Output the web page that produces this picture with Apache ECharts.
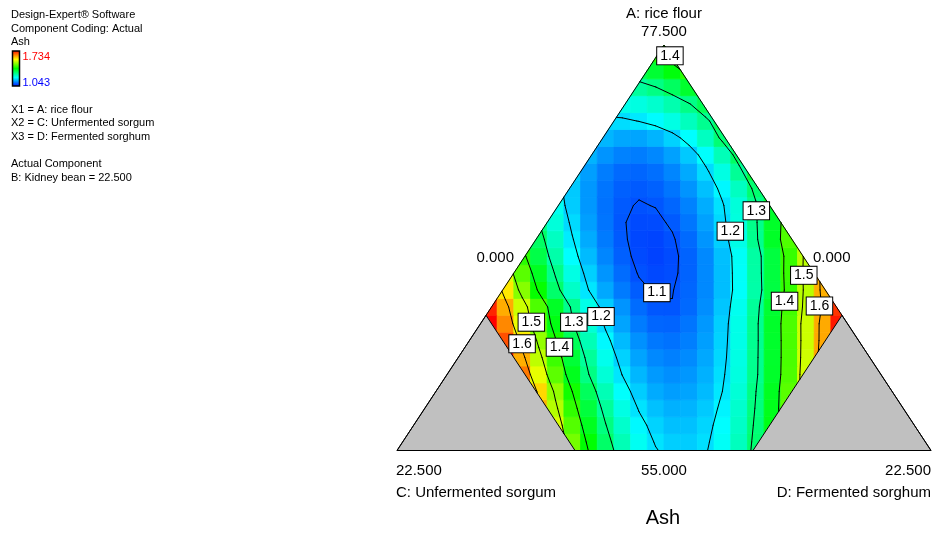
<!DOCTYPE html>
<html>
<head>
<meta charset="utf-8">
<script src="https://cdn.jsdelivr.net/npm/echarts@6/dist/echarts.min.js"></script>
<style>
  html, body { margin: 0; padding: 0; background: #fff; }
  #chart { width: 933px; height: 533px; }
</style>
</head>
<body>
<div id="chart"></div>
<script>
// ---- Ash response over the A / C / D mixture region (B: Kidney bean fixed at 22.500) ----
// Each row is one band of the mixture plot, from the A = 55 base (row 0) up to the
// A = 77.5 apex. A row lists only the cells that fall inside the feasible region,
// from the C (Unfermented sorgum) side to the D (Fermented sorghum) side.
const ashRows = [
  [1.468, 1.387, 1.319, 1.265, 1.224, 1.197, 1.183, 1.182, 1.194, 1.221, 1.260, 1.313],
  [1.536, 1.445, 1.367, 1.302, 1.250, 1.212, 1.186, 1.173, 1.174, 1.188, 1.215, 1.254, 1.308, 1.374],
  [1.613, 1.511, 1.422, 1.347, 1.284, 1.234, 1.197, 1.174, 1.163, 1.165, 1.180, 1.208, 1.249, 1.303, 1.370, 1.451],
  [1.588, 1.488, 1.400, 1.326, 1.265, 1.217, 1.182, 1.159, 1.150, 1.154, 1.170, 1.200, 1.243, 1.299, 1.367, 1.449],
  [1.652, 1.546, 1.451, 1.369, 1.300, 1.243, 1.199, 1.167, 1.147, 1.140, 1.145, 1.163, 1.194, 1.237, 1.292, 1.360, 1.440, 1.533],
  [1.723, 1.616, 1.517, 1.429, 1.351, 1.284, 1.228, 1.185, 1.154, 1.136, 1.130, 1.137, 1.157, 1.189, 1.234, 1.291, 1.359, 1.438, 1.528, 1.627],
  [1.680, 1.581, 1.488, 1.404, 1.329, 1.265, 1.212, 1.170, 1.141, 1.124, 1.120, 1.129, 1.151, 1.186, 1.232, 1.290, 1.359, 1.438, 1.526, 1.620],
  [1.742, 1.642, 1.547, 1.458, 1.377, 1.305, 1.244, 1.193, 1.154, 1.127, 1.112, 1.111, 1.122, 1.146, 1.183, 1.231, 1.290, 1.360, 1.439, 1.526, 1.619, 1.718],
  [1.709, 1.617, 1.527, 1.441, 1.363, 1.292, 1.231, 1.181, 1.143, 1.116, 1.102, 1.101, 1.114, 1.139, 1.177, 1.226, 1.285, 1.355, 1.433, 1.517, 1.606, 1.699],
  [1.576, 1.479, 1.392, 1.317, 1.253, 1.199, 1.157, 1.126, 1.106, 1.097, 1.099, 1.112, 1.136, 1.172, 1.218, 1.275, 1.344, 1.423, 1.514, 1.615],
  [1.542, 1.449, 1.366, 1.295, 1.234, 1.184, 1.144, 1.116, 1.098, 1.092, 1.095, 1.110, 1.136, 1.172, 1.219, 1.277, 1.346, 1.426, 1.516, 1.617],
  [1.417, 1.340, 1.273, 1.216, 1.170, 1.134, 1.108, 1.093, 1.088, 1.094, 1.110, 1.136, 1.173, 1.221, 1.278, 1.346, 1.425, 1.514],
  [1.321, 1.257, 1.203, 1.159, 1.126, 1.104, 1.091, 1.089, 1.097, 1.115, 1.144, 1.183, 1.232, 1.292, 1.362, 1.442],
  [1.301, 1.241, 1.191, 1.151, 1.122, 1.102, 1.093, 1.094, 1.104, 1.123, 1.152, 1.190, 1.238, 1.295, 1.361, 1.437],
  [1.225, 1.181, 1.146, 1.120, 1.104, 1.098, 1.101, 1.112, 1.131, 1.160, 1.196, 1.241, 1.295, 1.357],
  [1.180, 1.146, 1.122, 1.108, 1.104, 1.109, 1.122, 1.143, 1.173, 1.211, 1.258, 1.313],
  [1.184, 1.151, 1.128, 1.115, 1.112, 1.118, 1.134, 1.158, 1.192, 1.235, 1.287, 1.348],
  [1.165, 1.143, 1.131, 1.128, 1.135, 1.152, 1.179, 1.217, 1.264, 1.321],
  [1.166, 1.156, 1.155, 1.165, 1.185, 1.216, 1.258, 1.310],
  [1.191, 1.193, 1.201, 1.214, 1.234, 1.260, 1.291, 1.329],
  [1.230, 1.236, 1.249, 1.270, 1.297, 1.331],
  [1.282, 1.299, 1.324, 1.358],
  [1.335, 1.354, 1.381, 1.417],
  [1.410, 1.428]
];

// Colour scale limits (legend) and the contour levels drawn
const ashMin = 1.043;
const ashMax = 1.734;
const contourLevels = [1.1, 1.2, 1.3, 1.4, 1.5, 1.6];

// Component limits (actual units)
const aLow = 55.0, aHigh = 77.5;   // A: rice flour
const cMax = 15.0;                 // C: Unfermented sorgum upper limit
const dMax = 15.0;                 // D: Fermented sorghum upper limit

// Contour label boxes: level, A and D at the label centre
const labelLevels = [1.4, 1.3, 1.2, 1.5, 1.4, 1.6, 1.1, 1.2, 1.3, 1.5, 1.6, 1.4];
const labelA = [76.90, 68.30, 67.17, 64.72, 63.28, 63.02, 63.76, 62.43, 62.12, 62.12, 60.92, 60.73];
const labelD = [0.55, 8.49, 7.96, 12.28, 12.19, 13.79, 6.57, 4.88, 3.89, 2.10, 2.31, 3.98];

// Text
const componentNames = ['A: rice flour', 'C: Unfermented sorgum', 'D: Fermented sorghum'];
const apexTick = '77.500';
const cornerTicks = ['22.500', '22.500'];
const baseTick = '55.000';
const edgeTicks = ['0.000', '0.000'];
const responseName = 'Ash';
const headerLines = ['Design-Expert\u00ae Software', 'Component Coding: Actual', 'Ash'];
const factorLines = ['X1 = A: rice flour', 'X2 = C: Unfermented sorgum', 'X3 = D: Fermented sorghum'];
const fixedLines = ['Actual Component', 'B: Kidney bean = 22.500'];

// ---------------------------------------------------------------------------
const FONT = 'Arial, "Liberation Sans", Helvetica, sans-serif';
const ramp = ['#0000ff', '#00ffff', '#00ff00', '#ffff00', '#ff0000'];
const COLS = 32;
const ROWS = ashRows.length;
const span = aHigh - aLow;

// mixture (A, D) -> plot units: x across the base, y up towards the A apex
function toXY(A, D) {
  const y = (A - aLow) / span;
  return [D / span + y / 2, y];
}

// feasible region (counter-clockwise)
const region = [
  toXY(aHigh, 0),
  toXY(aHigh - cMax, 0),
  toXY(aLow, span - cMax),
  toXY(aLow, dMax),
  toXY(aHigh - dMax, dMax)
];
const triangle = [toXY(aHigh, 0), toXY(aLow, 0), toXY(aLow, span)];
const leftCut = [toXY(aLow, 0), toXY(aHigh - cMax, 0), toXY(aLow, span - cMax)];
const rightCut = [toXY(aLow, dMax), toXY(aHigh - dMax, dMax), toXY(aLow, span)];

function clipPoly(pts, poly) {
  let out = pts;
  for (let k = 0; k < poly.length && out.length; k++) {
    const a = poly[k], b = poly[(k + 1) % poly.length];
    const nx = -(b[1] - a[1]), ny = b[0] - a[0];
    const side = p => nx * (p[0] - a[0]) + ny * (p[1] - a[1]);
    const inp = out;
    out = [];
    for (let m = 0; m < inp.length; m++) {
      const p = inp[m], q = inp[(m + 1) % inp.length];
      const sp = side(p), sq = side(q);
      if (sp >= 0) out.push(p);
      if ((sp >= 0) !== (sq >= 0)) {
        const t = sp / (sp - sq);
        out.push([p[0] + t * (q[0] - p[0]), p[1] + t * (q[1] - p[1])]);
      }
    }
  }
  return out;
}
function polyArea(p) {
  let s = 0;
  for (let k = 0; k < p.length; k++) {
    const a = p[k], b = p[(k + 1) % p.length];
    s += a[0] * b[1] - b[0] * a[1];
  }
  return Math.abs(s) / 2;
}
function clipSegment(p, q, poly) {
  let t0 = 0, t1 = 1;
  const dx = q[0] - p[0], dy = q[1] - p[1];
  for (let k = 0; k < poly.length; k++) {
    const a = poly[k], b = poly[(k + 1) % poly.length];
    const nx = -(b[1] - a[1]), ny = b[0] - a[0];
    const num = nx * (p[0] - a[0]) + ny * (p[1] - a[1]);
    const den = nx * dx + ny * dy;
    if (Math.abs(den) < 1e-12) { if (num < 0) return null; continue; }
    const t = -num / den;
    if (den > 0) t0 = Math.max(t0, t); else t1 = Math.min(t1, t);
    if (t0 > t1) return null;
  }
  return [p[0] + t0 * dx, p[1] + t0 * dy, p[0] + t1 * dx, p[1] + t1 * dy];
}

// ---- cells: pair each row's values with the grid cells inside the region ----
const cellPolys = [];
const cellData = [];
const rowInfo = [];
for (let i = 0; i < ROWS; i++) {
  const vals = ashRows[i];
  let k = 0, start = -1;
  for (let j = 0; j < COLS; j++) {
    const x0 = j / COLS, x1 = (j + 1) / COLS, y0 = i / ROWS, y1 = (i + 1) / ROWS;
    const poly = clipPoly([[x0, y0], [x1, y0], [x1, y1], [x0, y1]], region);
    if (poly.length >= 3 && polyArea(poly) > 1e-7 && k < vals.length) {
      if (start < 0) start = j;
      cellPolys.push(poly);
      cellData.push([(j + 0.5) / COLS, (i + 0.5) / ROWS, vals[k], cellPolys.length - 1]);
      k++;
    }
  }
  rowInfo.push({ start: start, vals: vals });
}

// ---- contour lines (marching squares over the cell centres) ----
function rowVal(i, j) {
  const r = rowInfo[i], n = r.vals.length, k = j - r.start;
  if (k >= 0 && k < n) return r.vals[k];
  if (n < 2) return r.vals[0];
  if (k < 0) return r.vals[0] + k * (r.vals[1] - r.vals[0]);
  return r.vals[n - 1] + (k - n + 1) * (r.vals[n - 1] - r.vals[n - 2]);
}
function nodeVal(i, j) {
  if (i < 0) return 2 * rowVal(0, j) - rowVal(1, j);
  if (i > ROWS - 1) return rowVal(ROWS - 1, j);
  return rowVal(i, j);
}
const segments = [];
contourLevels.forEach(L => {
  for (let i = -1; i < ROWS - 1; i++) {
    for (let j = 0; j < COLS - 1; j++) {
      const P = [[i, j], [i, j + 1], [i + 1, j + 1], [i + 1, j]];
      const V = P.map(n => nodeVal(n[0], n[1]));
      const XY = P.map(n => [(n[1] + 0.5) / COLS, (n[0] + 0.5) / ROWS]);
      const hits = [];
      for (let e = 0; e < 4; e++) {
        const va = V[e], vb = V[(e + 1) % 4];
        if ((va >= L) !== (vb >= L)) {
          const t = (L - va) / (vb - va);
          const A = XY[e], B = XY[(e + 1) % 4];
          hits.push([A[0] + t * (B[0] - A[0]), A[1] + t * (B[1] - A[1])]);
        } else {
          hits.push(null);
        }
      }
      const idx = [0, 1, 2, 3].filter(e => hits[e]);
      let pairs = [];
      if (idx.length === 2) pairs = [[idx[0], idx[1]]];
      else if (idx.length === 4) {
        const mid = (V[0] + V[1] + V[2] + V[3]) / 4;
        pairs = ((mid >= L) === (V[0] >= L)) ? [[0, 1], [2, 3]] : [[3, 0], [1, 2]];
      }
      pairs.forEach(pr => {
        const s = clipSegment(hits[pr[0]], hits[pr[1]], region);
        if (s) segments.push(s.concat([L]));
      });
    }
  }
});

const labelData = labelLevels.map((lv, k) => toXY(labelA[k], labelD[k]).concat([lv]));

function ashColor(v) {
  const t = Math.min(1, Math.max(0, (v - ashMin) / (ashMax - ashMin)));
  return echarts.color.lerp(t, ramp);
}

const chart = echarts.init(document.getElementById('chart'));
chart.setOption({
  animation: false,
  backgroundColor: '#ffffff',
  grid: { left: 397, right: 2, top: 45, bottom: 82.5, containLabel: false },
  xAxis: { type: 'value', min: 0, max: 1, show: false },
  yAxis: { type: 'value', min: 0, max: 1, show: false },
  series: [
    {
      // response surface cells
      type: 'custom', name: 'Ash', silent: true, z: 1,
      encode: { x: 0, y: 1 },
      data: cellData,
      renderItem: function (params, api) {
        const poly = cellPolys[api.value(3)];
        const c = ashColor(api.value(2));
        return {
          type: 'polygon',
          shape: { points: poly.map(p => api.coord(p)) },
          style: { fill: c, stroke: c, lineWidth: 0.8 }
        };
      }
    },
    {
      // infeasible corners
      type: 'custom', silent: true, z: 2,
      encode: { x: 0, y: 1 },
      data: [[0.5, 0.5]],
      renderItem: function (params, api) {
        const mk = pts => ({
          type: 'polygon',
          shape: { points: pts.map(p => api.coord(p)) },
          style: { fill: '#c0c0c0', stroke: '#000', lineWidth: 1 }
        });
        return { type: 'group', children: [mk(leftCut), mk(rightCut)] };
      }
    },
    {
      // contour lines
      type: 'custom', silent: true, z: 3,
      encode: { x: [0, 2], y: [1, 3] },
      data: segments,
      renderItem: function (params, api) {
        const a = api.coord([api.value(0), api.value(1)]);
        const b = api.coord([api.value(2), api.value(3)]);
        return {
          type: 'line',
          shape: { x1: a[0], y1: a[1], x2: b[0], y2: b[1] },
          style: { stroke: '#000', lineWidth: 1, lineCap: 'round' }
        };
      }
    },
    {
      // simplex outline
      type: 'custom', silent: true, z: 4,
      encode: { x: 0, y: 1 },
      data: [[0.5, 0.5]],
      renderItem: function (params, api) {
        return {
          type: 'polygon',
          shape: { points: triangle.map(p => api.coord(p)) },
          style: { fill: 'none', stroke: '#000', lineWidth: 1 }
        };
      }
    },
    {
      // contour level labels
      type: 'custom', silent: true, z: 5,
      encode: { x: 0, y: 1 },
      data: labelData,
      renderItem: function (params, api) {
        const p = api.coord([api.value(0), api.value(1)]);
        return {
          type: 'text',
          x: p[0], y: p[1],
          style: {
            text: api.value(2).toFixed(1),
            font: '14px ' + FONT,
            fill: '#000',
            align: 'center', verticalAlign: 'middle',
            textAlign: 'center', textVerticalAlign: 'middle',
            backgroundColor: '#fff',
            borderColor: '#000', borderWidth: 1,
            padding: [2, 3, 1, 3]
          }
        };
      }
    }
  ]
});

// ---- axis text around the simplex and the information block ----
const px = p => chart.convertToPixel({ gridIndex: 0 }, p);
const apex = px(triangle[0]), bl = px(triangle[1]), br = px(triangle[2]);
const bc = px([0.5, 0]), lm = px([0.25, 0.5]), rm = px([0.75, 0.5]);

function txt(text, x, y, align, size, color) {
  return {
    type: 'text', x: x, y: y, silent: true, z: 10,
    style: {
      text: text, font: size + 'px ' + FONT, fill: color || '#000',
      align: align, verticalAlign: 'middle',
      textAlign: align, textVerticalAlign: 'middle'
    }
  };
}

const els = [
  txt(componentNames[0], apex[0], apex[1] - 31.5, 'center', 15),
  txt(apexTick, apex[0], apex[1] - 13.5, 'center', 15),
  txt(cornerTicks[0], bl[0] - 1, bl[1] + 20, 'left', 15),
  txt(componentNames[1], bl[0] - 1, bl[1] + 42, 'left', 15),
  txt(baseTick, bc[0], bc[1] + 20, 'center', 15),
  txt(cornerTicks[1], br[0], br[1] + 20, 'right', 15),
  txt(componentNames[2], br[0], br[1] + 42, 'right', 15),
  txt(responseName, bc[0] - 1, bc[1] + 68, 'center', 20),
  txt(edgeTicks[0], lm[0] - 16.5, lm[1] + 10, 'right', 15),
  txt(edgeTicks[1], rm[0] + 15.5, rm[1] + 10, 'left', 15)
];

const infoX = 11;
headerLines.forEach((t, k) => els.push(txt(t, infoX, 15 + k * 13.7, 'left', 11)));
els.push({
  type: 'rect', silent: true, z: 10,
  shape: { x: 12.5, y: 51, width: 7, height: 35 },
  style: {
    fill: new echarts.graphic.LinearGradient(0, 0, 0, 1, [
      { offset: 0, color: ramp[4] }, { offset: 0.25, color: ramp[3] },
      { offset: 0.5, color: ramp[2] }, { offset: 0.75, color: ramp[1] },
      { offset: 1, color: ramp[0] }
    ]),
    stroke: '#000', lineWidth: 1.5
  }
});
els.push(txt(ashMax.toFixed(3), 22.5, 56.5, 'left', 11, '#ff0000'));
els.push(txt(ashMin.toFixed(3), 22.5, 82.5, 'left', 11, '#0000ff'));
factorLines.forEach((t, k) => els.push(txt(t, infoX, 109.5 + k * 13.7, 'left', 11)));
fixedLines.forEach((t, k) => els.push(txt(t, infoX, 164 + k * 14, 'left', 11)));

chart.setOption({ graphic: { elements: els } });
</script>
</body>
</html>
